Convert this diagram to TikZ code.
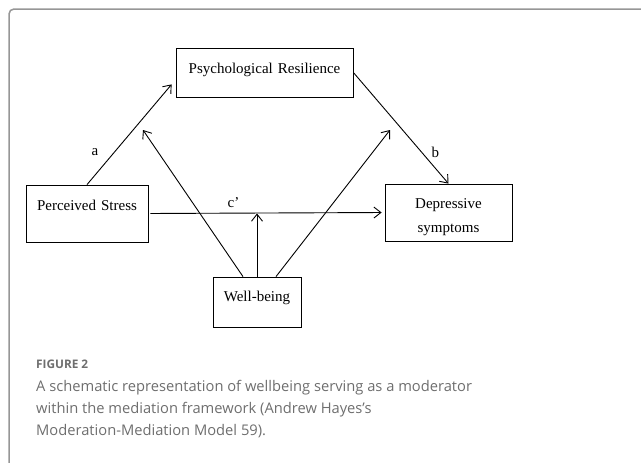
\documentclass[tikz,border=0pt]{standalone}
\usepackage{fontspec}
\setmainfont{Liberation Serif}
\newfontfamily\legendefont{Open Sans}
\usetikzlibrary{arrows.meta}
\definecolor{gristexte}{RGB}{110,110,110}
\definecolor{griscadre}{RGB}{150,150,150}
\tikzset{
Boite/.style={
 draw=black, 
 line width=0.8pt, 
 rectangle, 
 inner sep=0pt, 
 align=center, 
 font=\fontsize{15}{24}\selectfont
 },
Fleche/.style={
 draw=black, 
 line width=0.9pt, 
 -{Straight Barb[length=7pt,width=11pt]}
 },
Etiquette/.style={
 font=\fontsize{15}{18}\selectfont
 },
Cadre/.style={
 draw=griscadre, 
 line width=1.5pt, 
 rounded corners=5pt
 },
Legende/.style={
 text=gristexte, 
 inner sep=0pt, 
 align=left, 
 font=\legendefont\fontsize{14.7}{22}\selectfont
 }
}

\begin{document}
\begin{tikzpicture}[x=1pt,y=-1pt]
\useasboundingbox (0,0) rectangle (641,463);
\draw[Cadre] (9,470) -- (9,9) -- (650,9);
\node[Boite, text width=177pt, text height=26pt, text depth=23pt] (res) at (264.5,72.5) {Psychological Resilience};
\node[Boite, text width=122pt, text height=25pt, text depth=32pt] (stress) at (87,213.5) {Perceived Stress};
\node[Boite, text width=127pt, text height=24pt, text depth=33pt] (dep) at (448.5,212.5) {Depressive\\symptoms};
\node[Boite, text width=88pt, text height=24pt, text depth=26pt] (wb) at (257,302) {Well-being};
\coordinate (cmil) at (wb.north |- stress.east);
\coordinate (amil) at (143,130);
\coordinate (bmil) at (390,130);
\draw[Fleche] (stress.north) -- ([xshift=-4pt,yshift=13pt]res.south west) node[Etiquette,pos=0.32,left=12pt] {a};
\draw[Fleche] (res.east) -- (dep.north) node[Etiquette,pos=0.72,right=6pt] {b};
\draw[Fleche, shorten <=2pt, shorten >=3pt] (stress.east) -- (dep.west) node[Etiquette,pos=0.36,above=2pt] {c'};
\draw[Fleche] (wb.north) -- (cmil);
\draw[Fleche] ([xshift=-14pt]wb.north) -- (amil);
\draw[Fleche] ([xshift=19pt]wb.north) -- (bmil);
\node[Legende, anchor=base west, font=\legendefont\bfseries\fontsize{11.8}{15}\selectfont] (titre) at (36,368) {FIGURE 2};
\node[Legende, anchor=base west] (texte) at (36,435) {A schematic representation of wellbeing serving as a moderator\\within the mediation framework (Andrew Hayes’s\\Moderation-Mediation Model 59).};
\end{tikzpicture}
\end{document}
